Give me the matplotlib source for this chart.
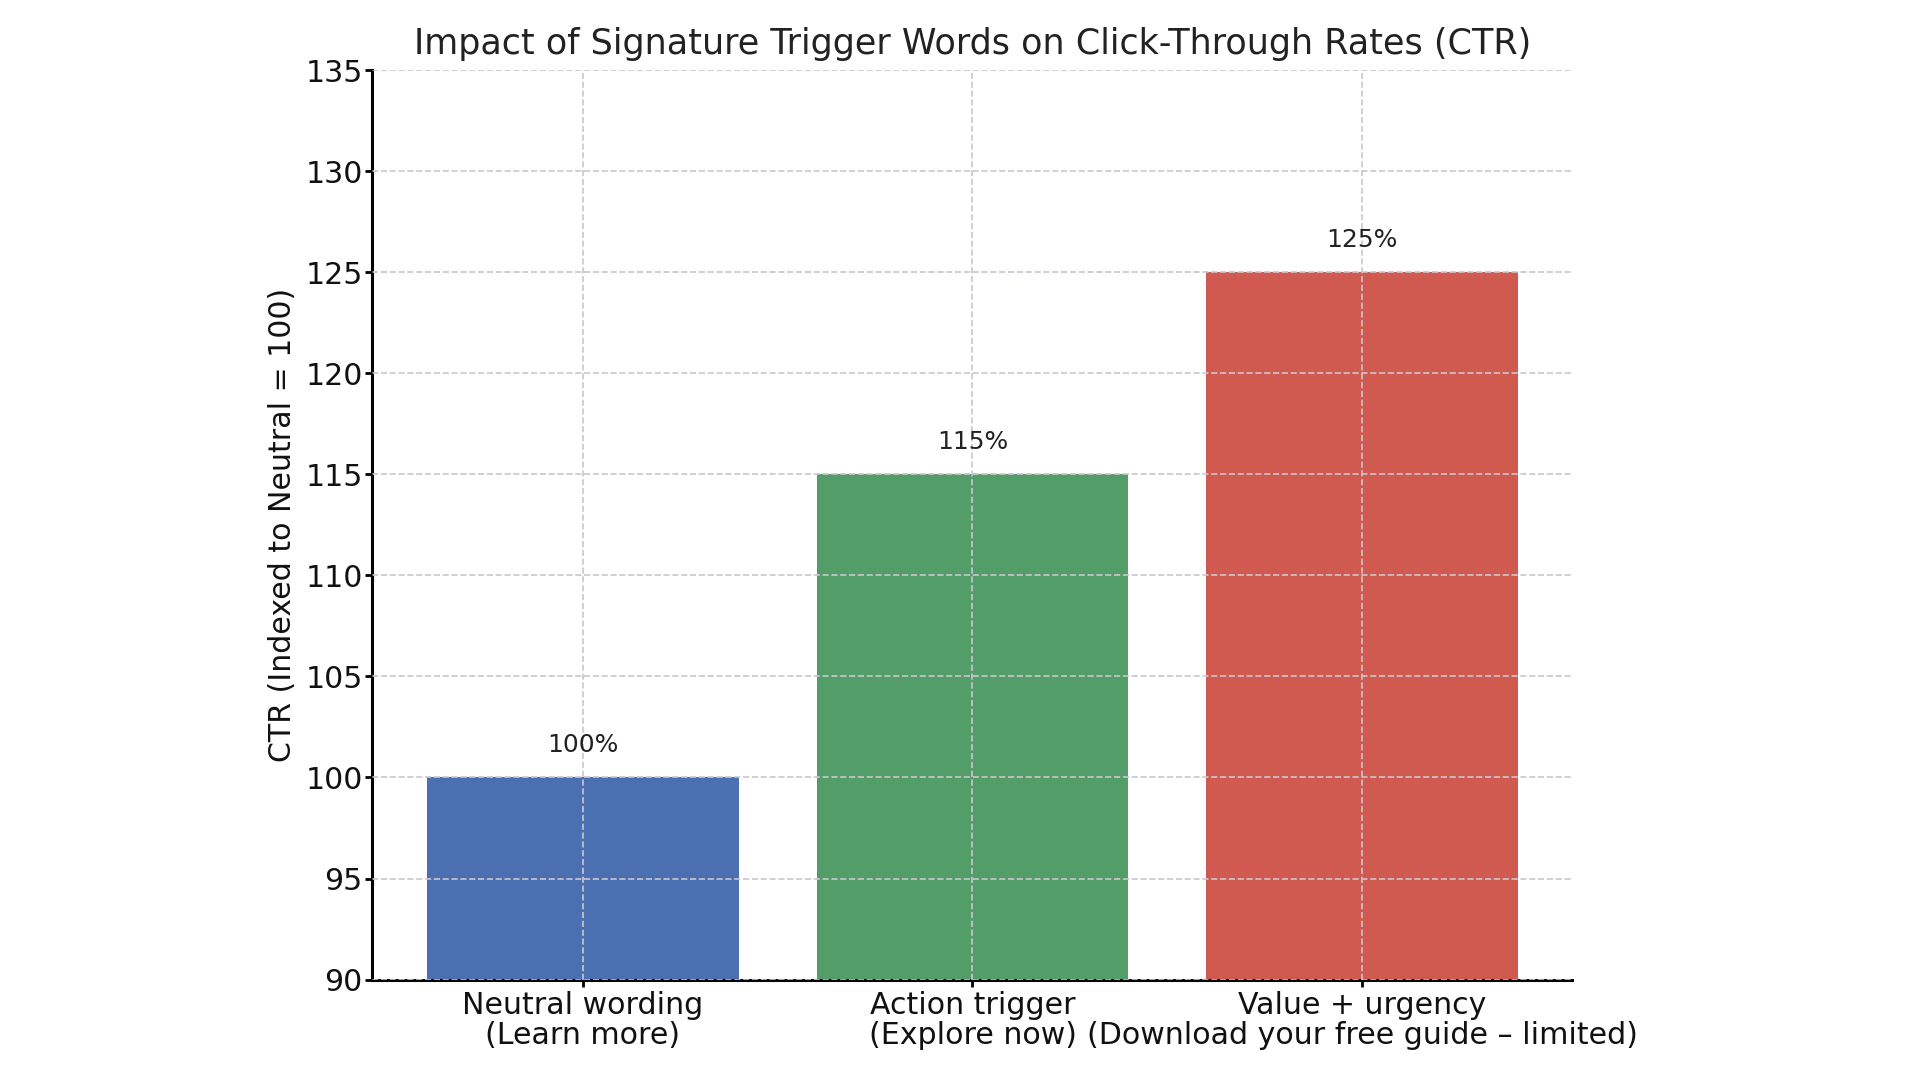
import matplotlib
matplotlib.use("Agg")
import matplotlib.pyplot as plt

# data
categories = ["Neutral wording\n(Learn more)",
              "Action trigger\n(Explore now)",
              "Value + urgency\n(Download your free guide – limited)"]
ctr_index = [100, 115, 125]
bar_colors = ["#4A70B2", "#539D69", "#D05A50"]
y_ticks = [90, 95, 100, 105, 110, 115, 120, 125, 130, 135]

fig = plt.figure(figsize=(19.2, 10.8), dpi=100)
ax = fig.add_axes([0.194, 0.093, 0.625, 0.842])

x = range(len(categories))
ax.bar(x, ctr_index, width=0.8, color=bar_colors, zorder=2)

# value labels above bars
for i, v in enumerate(ctr_index):
    ax.text(i, v + 1, f"{v}%", ha="center", va="bottom", fontsize=18, color="#222222", zorder=3)

ax.set_ylim(90, 135)
ax.set_yticks(y_ticks)
ax.set_xticks(list(x))
ax.set_xticklabels(categories, fontsize=21.6, color="#111111", linespacing=1.05)
ax.tick_params(axis="y", labelsize=21.6, labelcolor="#111111", length=5, width=2, pad=2)
ax.tick_params(axis="x", length=5, width=2, pad=3)

ax.set_ylabel("CTR (Indexed to Neutral = 100)", fontsize=21.6, color="#111111", labelpad=6)
ax.set_title("Impact of Signature Trigger Words on Click-Through Rates (CTR)",
             fontsize=25.2, color="#222222", pad=12)

ax.grid(True, linestyle="--", color="#ccc6d0", linewidth=1.2, zorder=0)
ax.set_axisbelow(False)
for s in ["top", "right"]:
    ax.spines[s].set_visible(False)
for s in ["left", "bottom"]:
    ax.spines[s].set_linewidth(2.2)

fig.savefig("out.png", dpi=100, facecolor="white")
